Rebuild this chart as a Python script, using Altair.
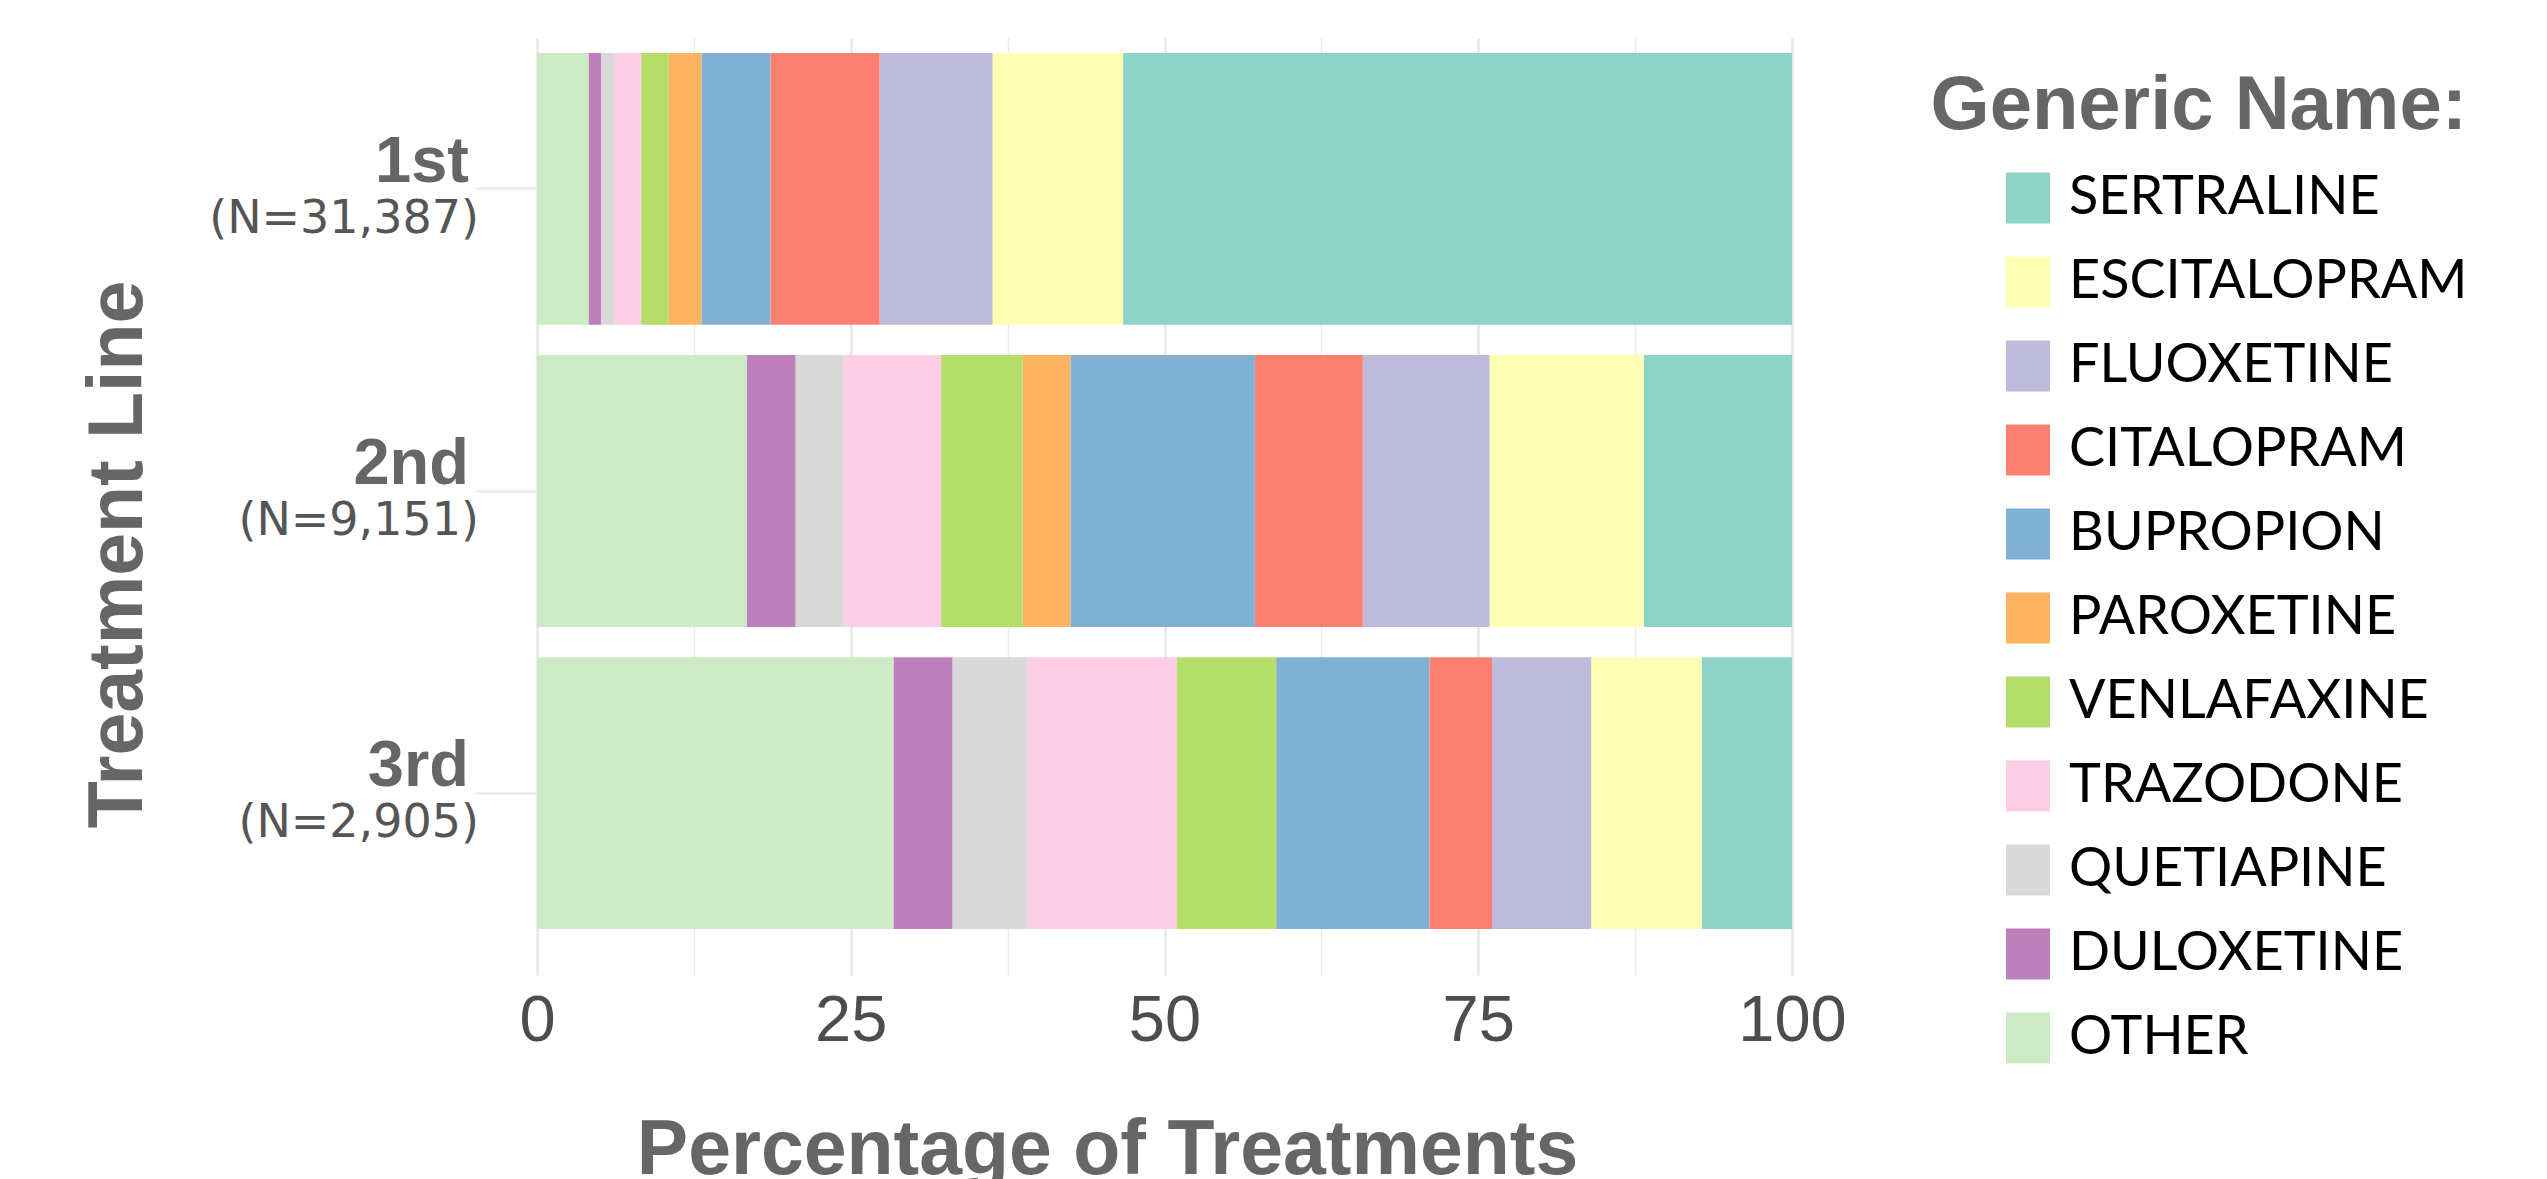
import altair as alt
import pandas as pd

# ---- data ----
lines = ["1st", "2nd", "3rd"]
n_labels = ["(N=31,387)", "(N=9,151)", "(N=2,905)"]
drugs = ["SERTRALINE", "ESCITALOPRAM", "FLUOXETINE", "CITALOPRAM", "BUPROPION",
         "PAROXETINE", "VENLAFAXINE", "TRAZODONE", "QUETIAPINE", "DULOXETINE", "OTHER"]
colors = ["#8DD3C7", "#FFFFB3", "#BEBADA", "#FB8072", "#80B1D3",
          "#FDB462", "#B3DE69", "#FCCDE5", "#D9D9D9", "#BC80BD", "#CCEBC5"]
pct_1st = [53.3, 10.4, 9.0, 8.7, 5.5, 2.6, 2.2, 2.1, 1.1, 1.0, 4.1]
pct_2nd = [11.8, 12.3, 10.1, 8.6, 14.7, 3.8, 6.5, 7.8, 3.8, 3.9, 16.7]
pct_3rd = [7.2, 8.8, 7.9, 5.0, 12.2, 0.0, 7.9, 11.9, 6.0, 4.7, 28.4]
x_ticks = [0, 12.5, 25, 37.5, 50, 62.5, 75, 87.5, 100]

rows = []
for line, vals in zip(lines, [pct_1st, pct_2nd, pct_3rd]):
    for i, (d, v) in enumerate(zip(drugs, vals)):
        rows.append({"line": line, "drug": d, "pct": v, "rank": len(drugs) - i})
df = pd.DataFrame(rows)
lab_df = pd.DataFrame({"line": lines, "n": n_labels})

TITLE_FONT = "Liberation Sans"
GREY = "#666666"

y_scale = alt.Scale(domain=lines, paddingInner=0.1, paddingOuter=0.101, align=0.246)

bars = alt.Chart(df).mark_bar().encode(
    x=alt.X(
        "pct:Q",
        stack="zero",
        scale=alt.Scale(domain=[0, 100], nice=False),
        axis=alt.Axis(
            values=x_ticks,
            labelExpr="datum.value % 25 === 0 ? datum.label : ''",
            grid=True,
            gridColor="#ebebeb",
            gridWidth={"condition": {"test": "datum.value % 25 === 0", "value": 3}, "value": 1.5},
            ticks=False,
            domain=False,
            labelFont="Liberation Sans",
            labelFontSize=65,
            labelColor="#4d4d4d",
            labelPadding=14,
            labelOverlap=False,
            labelFlush=False,
            title="Percentage of Treatments",
            titleFont=TITLE_FONT,
            titleFontSize=77,
            titleFontWeight="bold",
            titleColor=GREY,
            titleX=570,
            titleY=198,
            titleAlign="center",
            titleBaseline="alphabetic",
        ),
    ),
    y=alt.Y(
        "line:N",
        scale=y_scale,
        axis=alt.Axis(
            labels=False,
            ticks=True,
            tickColor="#ebebeb",
            tickWidth=2.5,
            tickSize=61,
            domain=False,
            grid=False,
            title="Treatment Line",
            titleFont=TITLE_FONT,
            titleFontSize=77,
            titleFontWeight="bold",
            titleColor=GREY,
            titleAngle=270,
            titleX=-396,
            titleY=516,
            titleAlign="center",
            titleBaseline="alphabetic",
        ),
    ),
    color=alt.Color(
        "drug:N",
        scale=alt.Scale(domain=drugs, range=colors),
        legend=alt.Legend(
            title="Generic Name:",
            orient="none",
            legendX=1394,
            legendY=31,
            direction="vertical",
            symbolType="M-0.863,-1H0.863V1H-0.863Z",
            symbolSize=2601,
            symbolStrokeWidth=0,
            symbolOpacity=1,
            labelFont="Lato",
            labelFontSize=54,
            labelColor="black",
            labelOffset=14,
            labelLimit=0,
            rowPadding=30,
            titleFont=TITLE_FONT,
            titleFontSize=76,
            titleFontWeight="bold",
            titleColor=GREY,
            titleAnchor="end",
            titlePadding=26,
            titleLimit=0,
            padding=0,
        ),
    ),
    order=alt.Order("rank:Q", sort="ascending"),
)

line_text = alt.Chart(lab_df).mark_text(
    align="right", baseline="alphabetic", dy=-7, fontSize=65,
    fontWeight="bold", font=TITLE_FONT, color=GREY,
).encode(y=alt.Y("line:N", scale=y_scale), x=alt.value(-68), text="line:N")

n_text = alt.Chart(lab_df).mark_text(
    align="right", baseline="alphabetic", dy=44, fontSize=46,
    font="DejaVu Sans", color="#555555",
).encode(y=alt.Y("line:N", scale=y_scale), x=alt.value(-58), text="n:N")

chart = alt.layer(bars, line_text, n_text).properties(
    width=1255,
    height=937,
    autosize=alt.AutoSizeParams(type="none"),
    padding={"left": 537, "top": 38, "right": 755, "bottom": 204},
    background="white",
).configure_view(stroke=None)

chart.save("out.html", embed_options={"renderer": "svg", "actions": False})
